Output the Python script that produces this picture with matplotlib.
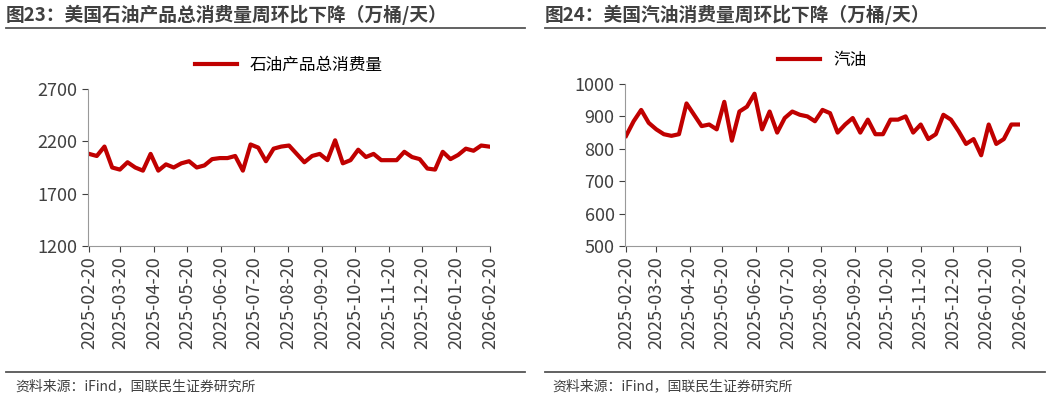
import matplotlib
matplotlib.use("Agg")
import matplotlib.pyplot as plt
import numpy as np
import pandas as pd

plt.rcParams['font.family'] = ['Noto Sans CJK SC', 'DejaVu Sans']

dates = pd.date_range("2025-02-20", periods=53, freq="7D")
total = [2080,2060,2150,1950,1930,2000,1950,1920,2080,1920,1980,1950,1990,2010,1950,1970,2030,2040,2040,2060,1920,2170,2140,2010,2130,2150,2160,2080,2000,2060,2080,2020,2210,1990,2020,2120,2050,2080,2020,2020,2020,2100,2050,2030,1940,1930,2100,2030,2070,2130,2110,2160,2150]
gasoline = [840,885,920,880,860,845,840,845,940,905,870,875,860,945,825,915,930,970,860,915,850,895,915,905,900,885,920,910,850,875,895,850,890,845,845,890,890,900,850,875,830,845,905,890,855,815,830,780,875,815,830,875,875]
tick_labels = ["2025-02-20","2025-03-20","2025-04-20","2025-05-20","2025-06-20","2025-07-20","2025-08-20","2025-09-20","2025-10-20","2025-11-20","2025-12-20","2026-01-20","2026-02-20"]
red = "#C00000"

fig = plt.figure(figsize=(10.49, 4.01), dpi=100)
W, H = 1049, 401
def ax_at(x0, y0, x1, y1):
    return fig.add_axes([x0/W, 1-y1/H, (x1-x0)/W, (y1-y0)/H])

ax1 = ax_at(88, 89, 490, 246)
ax2 = ax_at(625, 84, 1020, 246)
tk = pd.to_datetime(tick_labels)
for ax, data, lbl, yl, yt in [(ax1, total, "石油产品总消费量", (1200, 2700), [1200,1700,2200,2700]),
                              (ax2, gasoline, "汽油", (500, 1000), list(range(500,1001,100)))]:
    ax.plot(dates, data, color=red, lw=3, label=lbl)
    ax.set_ylim(*yl); ax.set_yticks(yt)
    ax.set_xlim(dates[0]-pd.Timedelta(days=1), dates[-1]+pd.Timedelta(days=1))
    ax.set_xticks(tk); ax.set_xticklabels(tick_labels, rotation=90)
    ax.tick_params(labelsize=13, colors="#404040", length=4)
    for s in ["top","right"]:
        ax.spines[s].set_visible(False)
    for s in ["left","bottom"]:
        ax.spines[s].set_color("#999999")
    ax.legend(loc="lower center", bbox_to_anchor=(0.5, 1.0), frameon=False, fontsize=12, handlelength=2.5)

fig.text(6/W, 1-15/H, "图23：美国石油产品总消费量周环比下降（万桶/天）", fontsize=13.5, fontweight="bold", va="center", color="#404040")
fig.text(545/W, 1-15/H, "图24：美国汽油消费量周环比下降（万桶/天）", fontsize=13.5, fontweight="bold", va="center", color="#404040")
for x0, x1 in [(6, 525), (545, 1045)]:
    for y in (28, 372):
        fig.add_artist(plt.Line2D([x0/W, x1/W], [1-y/H]*2, color="#555555", lw=1.3))
fig.text(15/W, 1-386/H, "资料来源：iFind，国联民生证券研究所", fontsize=10, va="center", color="#404040")
fig.text(552/W, 1-386/H, "资料来源：iFind，国联民生证券研究所", fontsize=10, va="center", color="#404040")
fig.savefig("out.png", dpi=100)
